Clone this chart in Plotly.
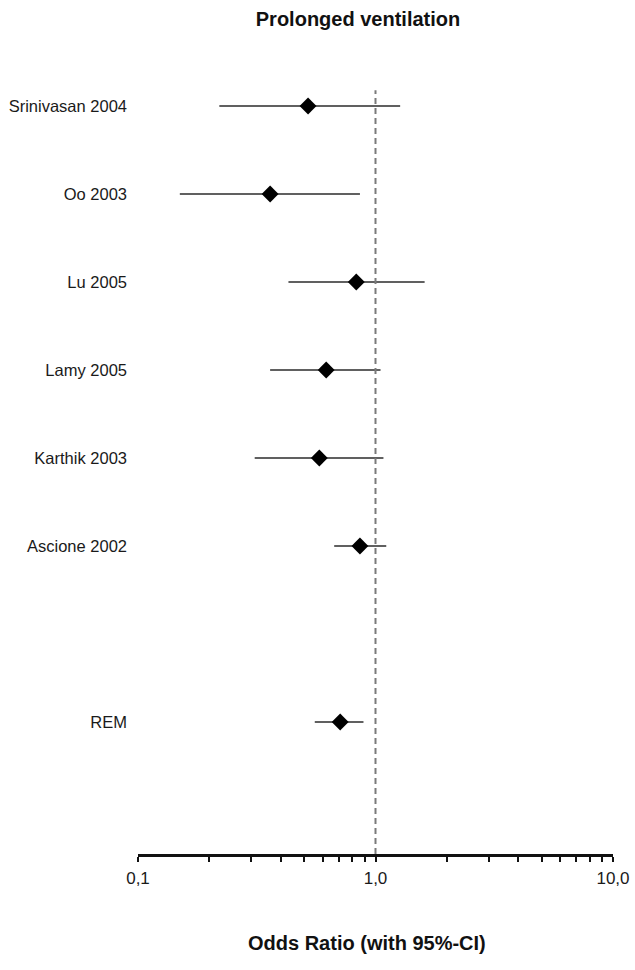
import plotly.graph_objects as go

# Study-level odds ratios for prolonged ventilation with 95% confidence limits
studies = ["Srinivasan 2004", "Oo 2003", "Lu 2005", "Lamy 2005",
           "Karthik 2003", "Ascione 2002", "REM"]
odds_ratio = [0.52, 0.36, 0.83, 0.62, 0.58, 0.86, 0.71]
ci_lower = [0.22, 0.15, 0.43, 0.36, 0.31, 0.67, 0.555]
ci_upper = [1.27, 0.86, 1.61, 1.05, 1.08, 1.11, 0.89]
row_pos = [9, 8, 7, 6, 5, 4, 2]

x_tick_vals = [0.1, 0.2, 0.3, 0.4, 0.5, 0.6, 0.7, 0.8, 0.9,
               1, 2, 3, 4, 5, 6, 7, 8, 9, 10]
x_tick_text = ["0,1", "", "", "", "", "", "", "", "",
               "1,0", "", "", "", "", "", "", "", "", "10,0"]

FONT = "Liberation Sans, Arial, sans-serif"

# Horizontal confidence-interval segments, one per study
ci_x, ci_y = [], []
for lo, hi, y in zip(ci_lower, ci_upper, row_pos):
    ci_x += [lo, hi, None]
    ci_y += [y, y, None]

fig = go.Figure()
fig.add_trace(go.Scatter(
    x=ci_x, y=ci_y, mode="lines",
    line=dict(color="#2b2b2b", width=1.6),
    hoverinfo="skip", showlegend=False,
))
fig.add_trace(go.Scatter(
    x=odds_ratio, y=row_pos, mode="markers",
    marker=dict(symbol="diamond", size=13, color="black"),
    text=studies, showlegend=False,
))

# Line of no effect at OR = 1
fig.add_shape(type="line", xref="x", yref="y",
              x0=1, x1=1, y0=0.5, y1=9.18,
              line=dict(color="#7a7a7a", width=2, dash="6px,4px"))

fig.update_layout(
    width=635, height=970,
    margin=dict(l=138, r=22, t=40, b=116),
    paper_bgcolor="white", plot_bgcolor="white",
    font=dict(family=FONT, size=16, color="#1a1a1a"),
    title=dict(text="<b>Prolonged ventilation</b>",
               x=358 / 635, xanchor="center",
               y=1 - 19 / 970, yanchor="middle",
               font=dict(size=20, color="#111111")),
    xaxis=dict(
        type="log", range=[-1, 1], automargin=False,
        tickvals=x_tick_vals, ticktext=x_tick_text,
        ticks="outside", ticklen=5, tickwidth=2, tickcolor="#111111",
        showline=True, linewidth=2.5, linecolor="#111111",
        showgrid=False, zeroline=False,
        ticklabelstandoff=2,
        tickfont=dict(size=17, color="#1a1a1a"),
    ),
    yaxis=dict(
        range=[0.5, 9.75], automargin=False,
        tickvals=row_pos, ticktext=studies,
        ticks="", showline=False, showgrid=False, zeroline=False,
        ticklabelstandoff=10,
        tickfont=dict(size=16.5, color="#1a1a1a"),
    ),
    annotations=[dict(
        text="<b>Odds Ratio (with 95%-CI)</b>",
        xref="paper", yref="paper", x=(367 - 138) / 475, y=-(943 - 854) / 814,
        xanchor="center", yanchor="middle", showarrow=False,
        font=dict(size=20, color="#111111"),
    )],
)

fig.write_html("out.html")
